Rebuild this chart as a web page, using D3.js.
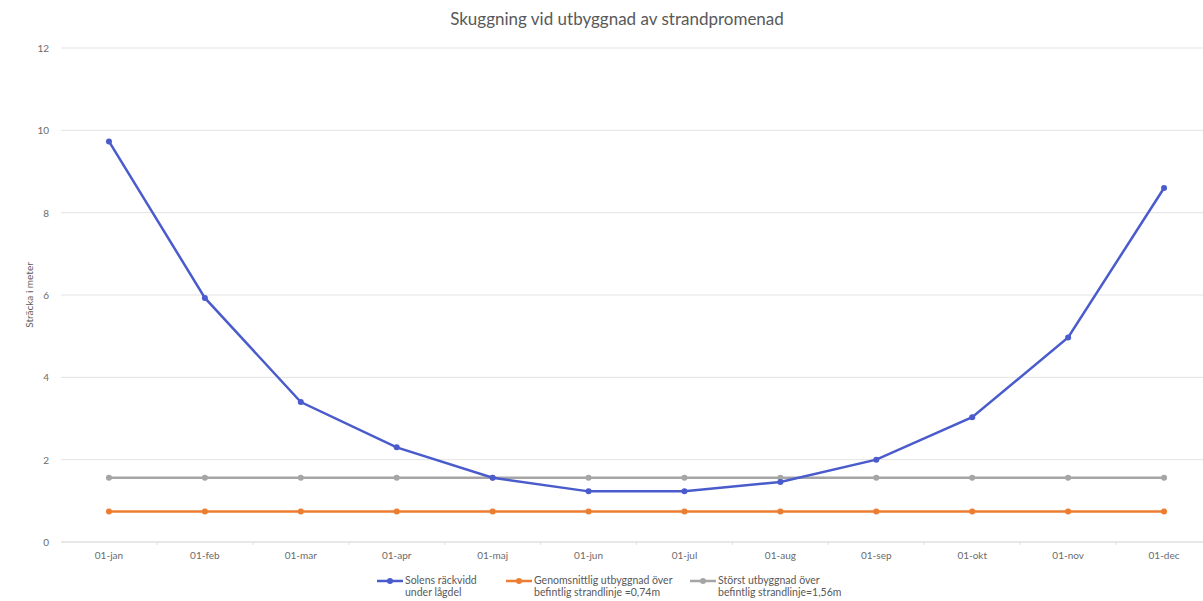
<!DOCTYPE html>
<html>
<head>
<meta charset="utf-8">
<script src="https://cdn.jsdelivr.net/npm/d3@7"></script>
<style>
  body { margin: 0; background: #fff; }
  text { font-family: Lato, "Open Sans", sans-serif; }
</style>
</head>
<body>
<div id="chart"></div>
<script>
// data
var months = ["01-jan", "01-feb", "01-mar", "01-apr", "01-maj", "01-jun", "01-jul", "01-aug", "01-sep", "01-okt", "01-nov", "01-dec"];
var solen = [9.73, 5.93, 3.40, 2.30, 1.56, 1.23, 1.23, 1.46, 2.00, 3.03, 4.97, 8.60];
var genomsnitt = [0.74, 0.74, 0.74, 0.74, 0.74, 0.74, 0.74, 0.74, 0.74, 0.74, 0.74, 0.74];
var storst = [1.56, 1.56, 1.56, 1.56, 1.56, 1.56, 1.56, 1.56, 1.56, 1.56, 1.56, 1.56];
var yTicks = [0, 2, 4, 6, 8, 10, 12];
var seriesNames = [["Solens räckvidd", "under lågdel"],
                   ["Genomsnittlig utbyggnad över", "befintlig strandlinje =0,74m"],
                   ["Störst utbyggnad över", "befintlig strandlinje=1,56m"]];
var colors = ["#4a5bcc", "#ed7d31", "#a5a5a5"];

var W = 1203, H = 601;
var svg = d3.select("#chart").append("svg")
    .attr("width", W)
    .attr("height", H);

var x = d3.scaleBand()
    .domain(months)
    .range([61, 1212]);

var y = d3.scaleLinear()
    .domain([0, 12])
    .range([542, 48]);

// gridlines
svg.append("g")
    .selectAll("line")
    .data(yTicks)
    .enter()
    .append("line")
    .attr("x1", 61)
    .attr("x2", W)
    .attr("y1", function (d) { return y(d) })
    .attr("y2", function (d) { return y(d) })
    .attr("stroke", function (d) { return d === 0 ? "#d0d0d0" : "#e3e3e3" })
    .attr("stroke-width", 1);

// y labels
svg.append("g")
    .selectAll("text")
    .data(yTicks)
    .enter()
    .append("text")
    .attr("x", 49)
    .attr("y", function (d) { return y(d) + 4 })
    .attr("text-anchor", "end")
    .style("font-size", "10px")
    .style("fill", "#6b6b6b")
    .text(function (d) { return d });

// x axis labels
svg.append("g")
    .selectAll("text")
    .data(months)
    .enter()
    .append("text")
    .attr("x", function (d) { return x(d) + x.bandwidth() / 2 })
    .attr("y", 559)
    .attr("text-anchor", "middle")
    .style("font-size", "10px")
    .style("fill", "#6b6b6b")
    .text(function (d) { return d });

// small ticks between categories
svg.append("g")
    .selectAll("line")
    .data(months.slice(1))
    .enter()
    .append("line")
    .attr("x1", function (d) { return x(d) })
    .attr("x2", function (d) { return x(d) })
    .attr("y1", 542)
    .attr("y2", 545)
    .attr("stroke", "#e0e0e0");

var allSeries = [solen, genomsnitt, storst];
var line = d3.line()
    .x(function (d, i) { return x(months[i]) + x.bandwidth() / 2 })
    .y(function (d) { return y(d) });

// draw lines in order: orange, gray, blue on top
[1, 2, 0].forEach(function (k) {
    svg.append("path")
        .datum(allSeries[k])
        .attr("d", line)
        .attr("fill", "none")
        .attr("stroke", colors[k])
        .attr("stroke-width", 2.5);
    svg.append("g")
        .selectAll("circle")
        .data(allSeries[k])
        .enter()
        .append("circle")
        .attr("cx", function (d, i) { return x(months[i]) + x.bandwidth() / 2 })
        .attr("cy", function (d) { return y(d) })
        .attr("r", 3)
        .attr("fill", colors[k]);
});

// title
svg.append("text")
    .attr("x", 617)
    .attr("y", 25)
    .attr("text-anchor", "middle")
    .style("font-size", "17px")
    .style("fill", "#595959")
    .text("Skuggning vid utbyggnad av strandpromenad");

// y axis title
svg.append("text")
    .attr("transform", "translate(33,295) rotate(-90)")
    .attr("text-anchor", "middle")
    .style("font-size", "10px")
    .style("fill", "#595959")
    .text("Sträcka i meter");

// legend
var legendX = [377, 506, 690];
var legend = svg.selectAll("g.leg")
    .data(seriesNames)
    .enter()
    .append("g")
    .attr("class", "leg")
    .attr("transform", function (d, i) { return "translate(" + legendX[i] + ",581)" });
legend.append("line")
    .attr("x1", 0).attr("x2", 26)
    .attr("y1", 0).attr("y2", 0)
    .attr("stroke", function (d, i) { return colors[i] })
    .attr("stroke-width", 2.5);
legend.append("circle")
    .attr("cx", 13).attr("cy", 0).attr("r", 3)
    .attr("fill", function (d, i) { return colors[i] });
legend.append("text")
    .attr("x", 28)
    .attr("y", 3)
    .style("font-size", "10.5px")
    .style("fill", "#595959")
    .text(function (d) { return d[0] });
legend.append("text")
    .attr("x", 28)
    .attr("y", 15)
    .style("font-size", "10.5px")
    .style("fill", "#595959")
    .text(function (d) { return d[1] });
</script>
</body>
</html>
